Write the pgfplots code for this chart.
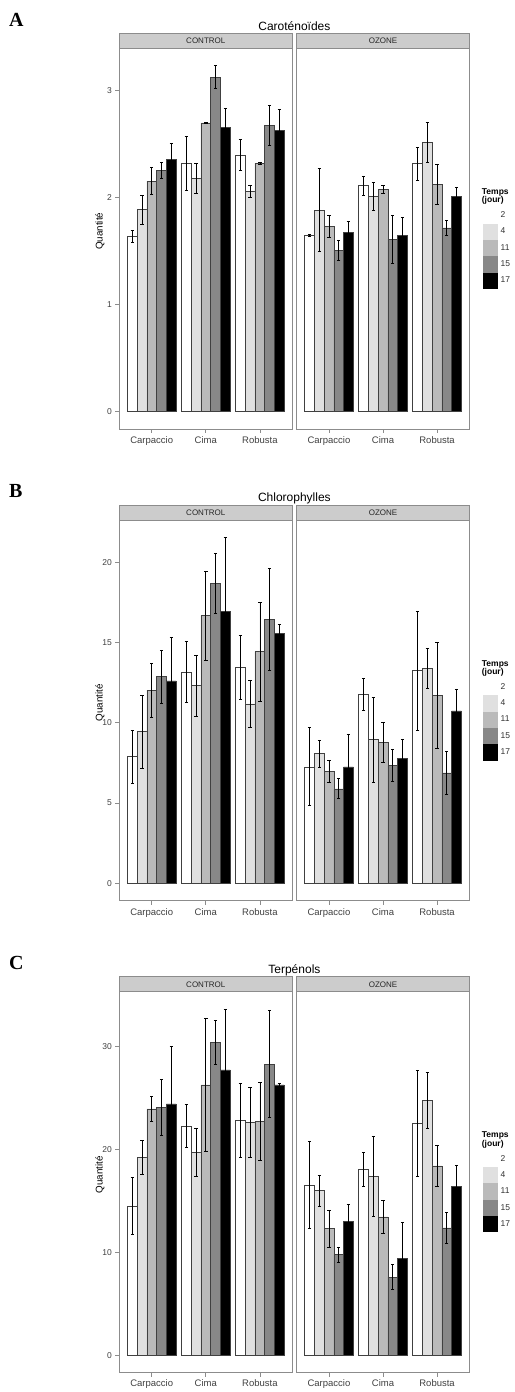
\documentclass[border=0pt]{standalone}
\usepackage{fontspec}
\setmainfont{Liberation Sans}
\newfontfamily\letterfont{Liberation Serif}
\usepackage{pgfplots}
\pgfplotsset{compat=1.18}
\usepackage{pgfplotstable}

\definecolor{framegray}{HTML}{8C8C8C}
\definecolor{stripfill}{HTML}{CCCCCC}
\definecolor{cA}{HTML}{FFFFFF}
\definecolor{cB}{HTML}{E0E0E0}
\definecolor{cC}{HTML}{BABABA}
\definecolor{cD}{HTML}{888888}
\definecolor{cE}{HTML}{000000}
\newcommand\fs[1]{\fontsize{#1bp}{#1bp}\selectfont}

% Caroténoïdes
\pgfplotstableread{
g v1 e1 v2 e2 v3 e3 v4 e4 v5 e5
1 1.636 0.055 1.890 0.135 2.156 0.125 2.252 0.075 2.358 0.150
2 2.320 0.250 2.180 0.140 2.700 0.006 3.128 0.107 2.654 0.180
3 2.400 0.148 2.060 0.060 2.324 0.010 2.676 0.190 2.626 0.200
}\tAc
\pgfplotstableread{
g v1 e1 v2 e2 v3 e3 v4 e4 v5 e5
1 1.651 0.010 1.883 0.387 1.733 0.105 1.508 0.097 1.679 0.097
2 2.112 0.087 2.013 0.135 2.078 0.034 1.611 0.220 1.645 0.170
3 2.318 0.156 2.517 0.190 2.121 0.187 1.717 0.067 2.016 0.081
}\tAo
% Chlorophylles
\pgfplotstableread{
g v1 e1 v2 e2 v3 e3 v4 e4 v5 e5
1 7.89 1.65 9.46 2.27 12.03 1.69 12.88 1.65 12.61 2.70
2 13.15 1.90 12.32 1.90 16.67 2.78 18.67 1.86 16.92 4.63
3 13.44 1.99 11.18 1.45 14.43 3.08 16.44 3.18 15.55 0.58
}\tBc
\pgfplotstableread{
g v1 e1 v2 e2 v3 e3 v4 e4 v5 e5
1 7.26 2.43 8.07 0.83 6.98 0.70 5.89 0.62 7.26 2.05
2 11.77 0.98 8.96 2.64 8.79 1.24 7.34 0.99 7.77 1.18
3 13.25 3.70 13.41 1.24 11.71 3.32 6.88 1.33 10.74 1.37
}\tBo
% Terpénols
\pgfplotstableread{
g v1 e1 v2 e2 v3 e3 v4 e4 v5 e5
1 14.48 2.76 19.22 1.64 23.93 1.20 24.06 2.70 24.42 5.58
2 22.27 2.06 19.68 2.35 26.27 6.49 30.39 2.17 27.73 5.90
3 22.82 3.60 22.63 3.36 22.73 3.75 28.28 5.19 26.27 0.10
}\tCc
\pgfplotstableread{
g v1 e1 v2 e2 v3 e3 v4 e4 v5 e5
1 16.55 4.27 16.00 1.50 12.30 1.82 9.77 0.75 12.98 1.71
2 18.04 1.67 17.39 3.86 13.43 1.62 7.59 1.20 9.38 3.50
3 22.52 5.13 24.76 2.71 18.39 2.00 12.36 1.48 16.39 2.08
}\tCo

\pgfplotsset{
 facet/.style={scale only axis, width=173bp, height=380.7bp, anchor=south west,
   xmin=0.4, xmax=3.6, enlargelimits=false,
   axis line style={draw=framegray, line width=0.7bp},
   xtick={1,2,3}, xticklabels={Carpaccio,Cima,Robusta},
   xtick pos=left, ytick pos=left, tick align=outside, major tick length=4bp,
   tick style={draw=framegray, line width=0.7bp},
   xticklabel style={font=\fs{9.5}, text=black!75},
   yticklabel style={font=\fs{8.5}, text=black!75},
   clip=false},
 tbar/.style={ybar, bar width=0.18, bar shift=0pt, draw=black!75, line width=0.6bp, fill=#1,
   legend image code/.code={\path[draw=none,fill] (0bp,-8.15bp) rectangle (15.6bp,8.15bp);},
   error bars/y dir=both, error bars/y explicit,
   error bars/error bar style={draw=black, line width=0.7bp},
   error bars/error mark options={rotate=90, draw=black, line width=0.7bp, mark size=1.7bp}},
 ozleg/.style={legend entries={2,4,11,15,17}, legend cell align=left,
   legend style={at={(1.0763,0.5823)}, anchor=north west, draw=none, fill=none,
     inner sep=0pt, outer sep=0pt, row sep=0pt, column sep=2.4bp,
     font=\fs{8.5}, text=black!80, nodes={inner sep=0pt, outer sep=0pt}}},
}

\newcommand\facet[6]{%
 \begin{axis}[facet, at={(#1bp,#2bp)}, ymin=#3, ymax=#4, #6]
  \addplot[tbar=cA] table[x expr=\thisrow{g}-0.36, y=v1, y error=e1]{#5};
  \addplot[tbar=cB] table[x expr=\thisrow{g}-0.18, y=v2, y error=e2]{#5};
  \addplot[tbar=cC] table[x expr=\thisrow{g}, y=v3, y error=e3]{#5};
  \addplot[tbar=cD] table[x expr=\thisrow{g}+0.18, y=v4, y error=e4]{#5};
  \addplot[tbar=cE] table[x expr=\thisrow{g}+0.36, y=v5, y error=e5]{#5};
 \end{axis}}

\newcommand\decor[4]{% #1 frame top y, #2 title, #3 letter, #4 unused
 \draw[fill=stripfill, draw=framegray, line width=0.7bp] (119.3bp,#1bp) rectangle (292.3bp,#1bp+15bp);
 \draw[fill=stripfill, draw=framegray, line width=0.7bp] (296.5bp,#1bp) rectangle (469.5bp,#1bp+15bp);
 \node[font=\fs{8}, text=black!85] at (205.8bp,#1bp+7.5bp) {CONTROL};
 \node[font=\fs{8}, text=black!85] at (383bp,#1bp+7.5bp) {OZONE};
 \node[anchor=base, inner sep=0pt, font=\fs{12}] at (294.4bp,#1bp+18bp) {#2};
 \node[rotate=90, inner sep=0pt, font=\fs{9.8}] at (100bp,#1bp-183bp) {Quantité};
 \node[anchor=north west, align=left, inner sep=0pt, font=\bfseries\fs{8.5}] at (481.7bp,#1bp-140bp) {Temps\\(jour)};
 \node[anchor=base west, inner sep=0pt, font=\letterfont\bfseries\fs{20}] at (9bp,#1bp+22bp) {#3};
}

\begin{document}
\begin{tikzpicture}
\path[use as bounding box] (0,0) rectangle (515bp,1392bp);
% Panel A
\facet{119.3}{963}{-0.162}{3.397}{\tAc}{ytick={0,1,2,3}, yticklabels={0,1,2,3}}
\facet{296.5}{963}{-0.162}{3.397}{\tAo}{ytick=\empty, ozleg}
\decor{1343.7}{Caroténoïdes}{A}{}
% Panel B
\facet{119.3}{491.3}{-1.078}{22.63}{\tBc}{ytick={0,5,10,15,20}, yticklabels={0,5,10,15,20}}
\facet{296.5}{491.3}{-1.078}{22.63}{\tBo}{ytick=\empty, ozleg}
\decor{872}{Chlorophylles}{B}{}
% Panel C
\facet{119.3}{19.5}{-1.68}{35.31}{\tCc}{ytick={0,10,20,30}, yticklabels={0,10,20,30}}
\facet{296.5}{19.5}{-1.68}{35.31}{\tCo}{ytick=\empty, ozleg}
\decor{400.2}{Terpénols}{C}{}
\end{tikzpicture}
\end{document}
